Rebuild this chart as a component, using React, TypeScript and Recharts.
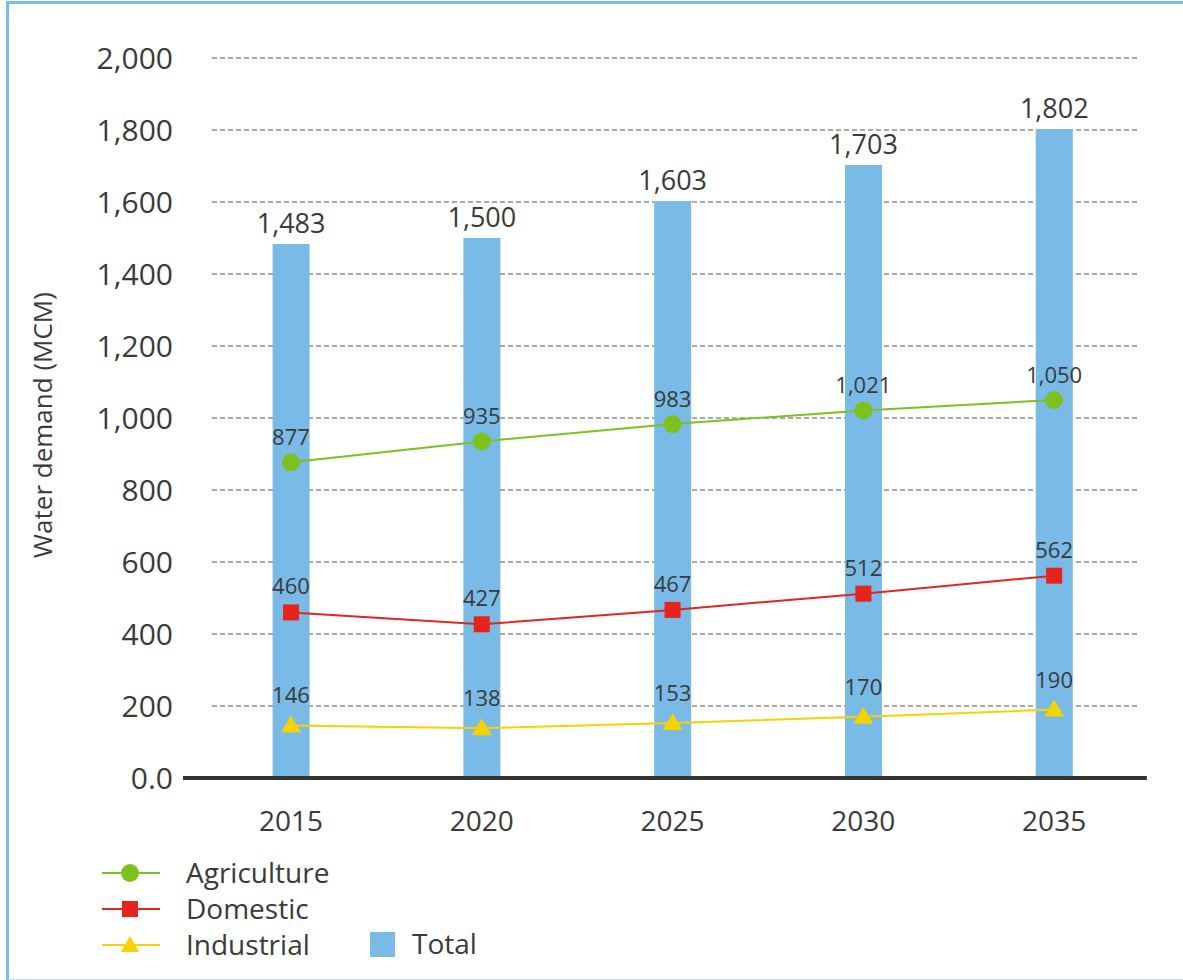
import {
	Bar,
	CartesianGrid,
	ComposedChart,
	LabelList,
	Line,
	ReferenceLine,
	XAxis,
	YAxis,
} from 'recharts';

// values
const years = [2015, 2020, 2025, 2030, 2035];
const agriculture = [877, 935, 983, 1021, 1050];
const domestic = [460, 427, 467, 512, 562];
const industrial = [146, 138, 153, 170, 190];
const total = [1483, 1500, 1603, 1703, 1802];
const yTicks = [0, 200, 400, 600, 800, 1000, 1200, 1400, 1600, 1800, 2000];

const data = years.map((year, i) => ({
	year,
	agriculture: agriculture[i],
	domestic: domestic[i],
	industrial: industrial[i],
	total: total[i],
}));

const FONT = '"Open Sans", "Noto Sans", sans-serif';
const TEXT = '#3a3a3a';
const GREEN = '#7bc21e';
const RED = '#e5241d';
const YELLOW = '#f6d200';
const BLUE = '#79bae6';

const fmt = (v: any) => Number(v).toLocaleString('en-US');
const fmtY = (v: number) => (v === 0 ? '0.0' : v.toLocaleString('en-US'));

const CircleDot = (p: any) => (
	<circle key={p.index} cx={p.cx} cy={p.cy} r={9} fill={GREEN} />
);
const SquareDot = (p: any) => (
	<rect key={p.index} x={p.cx - 8} y={p.cy - 8} width={16} height={16} fill={RED} />
);
const TriangleDot = (p: any) => (
	<path
		key={p.index}
		d={`M${p.cx},${p.cy - 10}L${p.cx + 10},${p.cy + 7}L${p.cx - 10},${p.cy + 7}Z`}
		fill={YELLOW}
	/>
);

const legendItems = [
	{ name: 'Agriculture', color: GREEN, shape: 'circle' },
	{ name: 'Domestic', color: RED, shape: 'square' },
	{ name: 'Industrial', color: YELLOW, shape: 'triangle' },
];

// legend drawn by hand below the plot
const ChartLegend = () => (
	<svg
		width={600}
		height={130}
		style={{ position: 'absolute', left: 0, top: 853 }}
	>
		{legendItems.map((it, i) => {
			const cy = 20 + i * 36;
			return (
				<g key={it.name}>
					<line x1={102} x2={160} y1={cy} y2={cy} stroke={it.color} strokeWidth={2} />
					{it.shape === 'circle' && <circle cx={130} cy={cy} r={9} fill={it.color} />}
					{it.shape === 'square' && (
						<rect x={122} y={cy - 8} width={16} height={16} fill={it.color} />
					)}
					{it.shape === 'triangle' && (
						<path d={`M130,${cy - 9}L139,${cy + 7}L121,${cy + 7}Z`} fill={it.color} />
					)}
					<text x={186} y={cy + 10} fontSize={28} fill={TEXT} fontFamily={FONT}>
						{it.name}
					</text>
				</g>
			);
		})}
		<rect x={370} y={79} width={25} height={25} fill={BLUE} />
		<text x={412} y={101} fontSize={28} fill={TEXT} fontFamily={FONT}>
			Total
		</text>
	</svg>
);

const App = () => {
	return (
		<div
			style={{
				position: 'absolute',
				left: 0,
				top: 0,
				width: 1183,
				height: 980,
				background: '#fff',
				overflow: 'hidden',
				fontFamily: FONT,
			}}
		>
			<div
				style={{
					position: 'absolute',
					left: 6,
					top: 1,
					width: 1200,
					height: 975,
					borderTop: '3px solid #7bbbe6',
					borderLeft: '3px solid #7bbbe6',
					borderBottom: '3px solid #c4e5ee',
				}}
			/>
			<div
				style={{
					position: 'absolute',
					left: 42,
					top: 425,
					transform: 'translate(-50%, -50%) rotate(-90deg)',
					whiteSpace: 'nowrap',
					fontSize: 26,
					color: TEXT,
				}}
			>
				Water demand (MCM)
			</div>
			<ComposedChart
				width={1183}
				height={980}
				data={data}
				margin={{ top: 58, right: 43, bottom: 142, left: 0 }}
				style={{ position: 'absolute', left: 0, top: 0 }}
			>
				<CartesianGrid
					vertical={false}
					stroke="#555"
					strokeDasharray="5 3"
				/>
				<XAxis
					dataKey="year"
					type="number"
					domain={[2012.93, 2037.25]}
					ticks={years}
					allowDataOverflow
					axisLine={false}
					tickLine={false}
					tickSize={0}
					tickMargin={33}
					height={60}
					tick={{ fill: TEXT, fontSize: 28, fontFamily: FONT }}
				/>
				<YAxis
					domain={[0, 2000]}
					ticks={yTicks}
					tickFormatter={fmtY}
					axisLine={false}
					tickLine={false}
					tickSize={0}
					tickMargin={39}
					width={212}
					tick={{ fill: TEXT, fontSize: 30, fontFamily: FONT }}
				/>
				<Bar dataKey="total" fill={BLUE} barSize={37} isAnimationActive={false}>
					<LabelList
						dataKey="total"
						position="top"
						offset={11}
						formatter={fmt}
						fill={TEXT}
						fontSize={27}
						fontFamily={FONT}
					/>
				</Bar>
				<ReferenceLine
					segment={[
						{ x: 2012.17, y: 0 },
						{ x: 2037.43, y: 0 },
					]}
					ifOverflow="visible"
					stroke="#333"
					strokeWidth={4}
				/>
				<Line
					dataKey="agriculture"
					stroke={GREEN}
					strokeWidth={2}
					dot={CircleDot}
					isAnimationActive={false}
				>
					<LabelList
						dataKey="agriculture"
						position="top"
						offset={17}
						formatter={fmt}
						fill={TEXT}
						fontSize={22}
						fontFamily={FONT}
					/>
				</Line>
				<Line
					dataKey="domestic"
					stroke={RED}
					strokeWidth={2}
					dot={SquareDot}
					isAnimationActive={false}
				>
					<LabelList
						dataKey="domestic"
						position="top"
						offset={18}
						formatter={fmt}
						fill={TEXT}
						fontSize={22}
						fontFamily={FONT}
					/>
				</Line>
				<Line
					dataKey="industrial"
					stroke={YELLOW}
					strokeWidth={2}
					dot={TriangleDot}
					isAnimationActive={false}
				>
					<LabelList
						dataKey="industrial"
						position="top"
						offset={22}
						formatter={fmt}
						fill={TEXT}
						fontSize={22}
						fontFamily={FONT}
					/>
				</Line>
			</ComposedChart>
			<ChartLegend />
		</div>
	);
};

export default App;
